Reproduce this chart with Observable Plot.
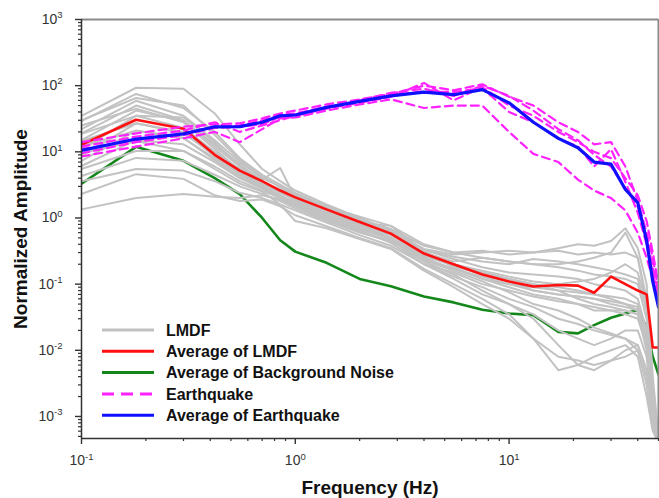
<!DOCTYPE html>
<html><head><meta charset="utf-8">
<script src="https://cdn.jsdelivr.net/npm/d3@7"></script>
<script src="https://cdn.jsdelivr.net/npm/@observablehq/plot@0.6"></script>
<style>
body{margin:0;background:#fff;}
#wrap{position:relative;width:659px;height:498px;font-family:"Liberation Sans",Arial,sans-serif;}
#wrap svg{display:block;}
#legend{position:absolute;left:0;top:0;pointer-events:none;}
</style></head><body><div id="wrap"></div>
<script>
// Frequency grid (Hz)
const freqs = [0.1, 0.18, 0.3, 0.42, 0.55, 0.7, 0.85, 1, 1.4, 2, 2.8, 4, 5.5, 7.5, 10, 13, 17, 21, 25, 30, 35, 40, 44, 47, 50];

// Individual LMDF spectra (gray)
const lmdfCurves = [
  [35, 93, 90, 38, 13, 5.5, 3.6, 2.6, 1.6, 1.0, 0.65, 0.33, 0.24, 0.18, 0.15, 0.14, 0.13, 0.12, 0.1, 0.09, 0.08, 0.06, 0.02, 0.002, 0.0004],
  [29, 75, 46, 20, 8, 4.5, 3.2, 2.4, 1.5, 0.95, 0.6, 0.3, 0.2, 0.15, 0.12, 0.1, 0.09, 0.08, 0.07, 0.06, 0.05, 0.04, 0.012, 0.001, 0.0004],
  [22, 59, 35, 15, 7, 4, 3, 2.3, 1.4, 0.9, 0.62, 0.34, 0.28, 0.3, 0.32, 0.3, 0.35, 0.4, 0.38, 0.45, 0.7, 0.35, 0.1, 0.004, 0.0005],
  [19, 50, 30, 12, 6, 3.8, 5.7, 2.0, 1.3, 0.8, 0.5, 0.25, 0.17, 0.12, 0.09, 0.07, 0.06, 0.05, 0.045, 0.04, 0.04, 0.035, 0.01, 0.001, 0.0004],
  [15, 42, 29, 13, 6.5, 3.5, 2.4, 1.9, 1.2, 0.76, 0.55, 0.3, 0.22, 0.25, 0.22, 0.2, 0.2, 0.22, 0.25, 0.3, 0.6, 0.25, 0.05, 0.002, 0.0004],
  [11, 35, 23, 10, 5.5, 3.3, 2.5, 1.8, 1.15, 0.75, 0.5, 0.22, 0.14, 0.08, 0.05, 0.035, 0.02, 0.015, 0.012, 0.015, 0.02, 0.02, 0.008, 0.001, 0.0004],
  [8.7, 27, 19, 9, 4.5, 3.0, 2.2, 1.7, 1.1, 0.7, 0.48, 0.2, 0.12, 0.07, 0.05, 0.03, 0.012, 0.006, 0.005, 0.007, 0.008, 0.01, 0.004, 0.0008, 0.0004],
  [7.3, 21, 16, 8, 4.6, 3.2, 2.6, 2.2, 1.5, 1.05, 0.76, 0.4, 0.3, 0.25, 0.22, 0.2, 0.18, 0.16, 0.14, 0.13, 0.12, 0.1, 0.03, 0.002, 0.0004],
  [6.1, 15, 13, 7, 4, 2.8, 2.0, 1.6, 1.0, 0.65, 0.42, 0.2, 0.15, 0.1, 0.08, 0.065, 0.055, 0.05, 0.04, 0.04, 0.035, 0.03, 0.012, 0.001, 0.0004],
  [5.5, 10.3, 10.3, 6, 3.6, 2.6, 2.0, 1.5, 0.95, 0.62, 0.45, 0.23, 0.16, 0.11, 0.075, 0.05, 0.04, 0.03, 0.022, 0.018, 0.015, 0.012, 0.005, 0.001, 0.0004],
  [4.3, 8.1, 7.3, 4.5, 3.0, 2.3, 1.8, 1.4, 0.9, 0.6, 0.44, 0.26, 0.2, 0.16, 0.13, 0.11, 0.1, 0.11, 0.12, 0.15, 0.2, 0.15, 0.05, 0.002, 0.0004],
  [3.6, 5.5, 5.2, 3.6, 2.4, 2.0, 1.6, 1.3, 0.85, 0.55, 0.38, 0.2, 0.13, 0.09, 0.06, 0.045, 0.03, 0.025, 0.02, 0.017, 0.015, 0.01, 0.003, 0.0007, 0.0004],
  [2.3, 4.6, 3.9, 2.2, 1.8, 1.9, 1.5, 1.1, 0.75, 0.5, 0.35, 0.17, 0.1, 0.06, 0.035, 0.015, 0.005, 0.006, 0.008, 0.01, 0.012, 0.008, 0.002, 0.0006, 0.0004],
  [1.35, 2.0, 2.3, 2.1, 2.0, 2.2, 1.9, 1.5, 1.0, 0.7, 0.5, 0.27, 0.19, 0.14, 0.11, 0.08, 0.07, 0.065, 0.06, 0.05, 0.045, 0.04, 0.015, 0.001, 0.0004],
  [18.7, 35, 33, 14, 6, 3.2, 2.4, 1.9, 1.3, 0.85, 0.76, 0.32, 0.18, 0.12, 0.1, 0.09, 0.08, 0.075, 0.07, 0.065, 0.06, 0.05, 0.02, 0.001, 0.0004],
  [14.6, 27, 20, 8.5, 4.8, 3.4, 2.7, 2.1, 1.4, 0.95, 0.68, 0.38, 0.3, 0.32, 0.28, 0.3, 0.32, 0.28, 0.3, 0.28, 0.3, 0.25, 0.06, 0.003, 0.0004],
  [12, 20.8, 16.3, 7.5, 4.2, 2.9, 2.1, 1.7, 1.2, 0.8, 0.55, 0.28, 0.2, 0.15, 0.12, 0.1, 0.08, 0.06, 0.05, 0.045, 0.04, 0.035, 0.012, 0.001, 0.0004],
  [25, 45, 28, 11, 5.2, 3.0, 2.2, 1.6, 1.05, 0.68, 0.48, 0.24, 0.17, 0.13, 0.1, 0.08, 0.07, 0.065, 0.06, 0.055, 0.05, 0.045, 0.015, 0.001, 0.0004],
  [9.5, 14.6, 10.3, 5.5, 3.3, 2.5, 1.6, 0.9, 0.7, 0.48, 0.34, 0.16, 0.09, 0.05, 0.03, 0.015, 0.008, 0.007, 0.006, 0.007, 0.01, 0.012, 0.005, 0.001, 0.0004],
  [30, 65, 50, 18, 7.5, 4.2, 2.9, 2.2, 1.45, 0.9, 0.62, 0.33, 0.26, 0.22, 0.2, 0.24, 0.22, 0.2, 0.18, 0.16, 0.14, 0.12, 0.04, 0.002, 0.0004]
];

// Averages
const avgLMDF  = [12.8, 30.5, 22.3, 9.0, 5.2, 3.6, 2.6, 2.05, 1.35, 0.87, 0.58, 0.29, 0.2, 0.14, 0.11, 0.092, 0.097, 0.095, 0.074, 0.13, 0.1, 0.08, 0.07, 0.011, 0.011];
const avgNoise = [3.3, 11.9, 7.3, 4.0, 2.3, 1.0, 0.46, 0.31, 0.21, 0.12, 0.093, 0.065, 0.053, 0.041, 0.036, 0.034, 0.019, 0.018, 0.024, 0.031, 0.036, 0.041, 0.022, 0.008, 0.0043];
const avgQuake = [10.5, 15.6, 18.7, 23.9, 24, 28, 35, 36, 47, 58, 70, 80, 73, 87, 55, 28, 16, 11.5, 7, 6.5, 2.7, 1.7, 0.45, 0.11, 0.045];

// Individual earthquake spectra (magenta dashed)
const quakeCurves = [
  [14, 19, 24, 26, 27, 32, 38, 42, 52, 62, 75, 100, 85, 105, 68, 50, 28, 20, 13, 14, 6, 1.8, 0.6, 0.25, 0.08],
  [8.5, 12, 16, 20, 14, 22, 32, 33, 42, 52, 62, 46, 50, 50, 20, 9.3, 7, 3.8, 2.6, 2, 1.3, 0.6, 0.25, 0.12, 0.06],
  [11, 15, 19, 24, 25, 30, 36, 38, 48, 58, 72, 82, 80, 92, 40, 28, 16, 12, 6, 11, 3.5, 1.2, 0.4, 0.15, 0.05],
  [9.5, 14, 18, 23, 24, 26, 34, 36, 46, 60, 78, 90, 70, 100, 70, 42, 22, 15, 9, 6, 2.8, 1.5, 0.5, 0.18, 0.07],
  [12, 17, 21, 28, 20, 25, 30, 35, 45, 55, 68, 110, 60, 95, 50, 35, 20, 14, 10, 8, 4, 2.2, 0.9, 0.3, 0.1]
];

const legendLabels = ["LMDF", "Average of LMDF", "Average of Background Noise", "Earthquake", "Average of Earthquake"];
const xMajor = [0.1, 1, 10];
const yMajor = [0.001, 0.01, 0.1, 1, 10, 100, 1000];

// ---- build tables ----
const toRows = (vals, id) => vals.map((v, i) => ({f: freqs[i], v, id}));
const grayRows = lmdfCurves.flatMap((c, k) => toRows(c, "g" + k));
const quakeRows = quakeCurves.flatMap((c, k) => toRows(c, "q" + k));
const redRows = toRows(avgLMDF, "red");
const greenRows = toRows(avgNoise, "green");
const blueRows = toRows(avgQuake, "blue");

const xDomain = [0.1, 50];
const yDomain = [Math.pow(10, -3.333), 1000];
const xMinor = [];
for (const d of [0.1, 1, 10]) for (let m = 2; m <= 9; m++) { const t = m * d; if (t <= xDomain[1]) xMinor.push(t); }
const yMinor = [];
for (const d of [0.0001, 0.001, 0.01, 0.1, 1, 10, 100]) for (let m = 2; m <= 9; m++) { const t = m * d; if (t >= yDomain[0] && t <= yDomain[1]) yMinor.push(t); }
const fmt = d => "10^" + Math.round(Math.log10(d));

const axisColor = "#333";
const svg = Plot.plot({
  width: 659, height: 498,
  marginLeft: 81, marginRight: 1, marginTop: 19, marginBottom: 60,
  style: {fontFamily: "'Liberation Sans', Arial, sans-serif", fontSize: "14px", background: "#fff", color: "#333"},
  x: {type: "log", domain: xDomain},
  y: {type: "log", domain: yDomain},
  marks: [
    Plot.line(greenRows, {x: "f", y: "v", stroke: "#14871a", strokeWidth: 2.6, clip: true}),
    Plot.line(grayRows, {x: "f", y: "v", z: "id", stroke: "#c2c2c2", strokeWidth: 2, clip: true}),
    Plot.line(redRows, {x: "f", y: "v", stroke: "#ff1010", strokeWidth: 2.6, clip: true}),
    Plot.line(quakeRows, {x: "f", y: "v", z: "id", stroke: "#ff22ff", strokeWidth: 2.2, strokeDasharray: "8,5", clip: true}),
    Plot.line(blueRows, {x: "f", y: "v", stroke: "#1010ff", strokeWidth: 3.2, clip: true}),
    // frame: top & right gray
    Plot.ruleY([yDomain[1]], {stroke: "#8a8a8a", strokeWidth: 2}),
    Plot.ruleX([xDomain[1]], {stroke: "#8a8a8a", strokeWidth: 2}),
    // axis lines
    Plot.ruleX([xDomain[0]], {stroke: axisColor, strokeWidth: 1.5}),
    Plot.ruleY([yDomain[0]], {stroke: axisColor, strokeWidth: 1.5}),
    Plot.axisX(xMinor, {tickSize: 3, tickFormat: null, text: null, label: null, stroke: axisColor, strokeWidth: 1.2}),
    Plot.axisY(yMinor, {tickSize: 3, tickFormat: null, text: null, label: null, stroke: axisColor, strokeWidth: 1.2}),
    Plot.axisX(xMajor, {tickSize: 6, tickPadding: 11, tickFormat: fmt, label: null, stroke: axisColor, strokeWidth: 1.4, fill: "#333", fontSize: 14}),
    Plot.axisY(yMajor, {tickSize: 6, tickPadding: 13, tickFormat: fmt, label: null, stroke: axisColor, strokeWidth: 1.4, fill: "#333", fontSize: 14}),
    Plot.text(["Frequency (Hz)"], {frameAnchor: "bottom", dy: 55, lineAnchor: "bottom", textAnchor: "middle", fontSize: 19, fontWeight: "bold", fill: "#111"}),
    Plot.text(["Normalized Amplitude"], {frameAnchor: "left", rotate: -90, dx: -55, lineAnchor: "bottom", textAnchor: "middle", fontSize: 19, fontWeight: "bold", fill: "#111"})
  ]
});

// superscript exponents in tick labels
d3.select(svg).selectAll("text").each(function () {
  const t = this.textContent;
  if (!/^10\^-?\d+$/.test(t)) return;
  const [b, e] = t.split("^");
  const s = d3.select(this);
  s.selectAll("*").remove();
  s.text(b);
  s.append("tspan").attr("font-size", "9.5px").attr("dy", "-0.6em").text(e);
});

const wrap = document.getElementById("wrap");
wrap.appendChild(svg);

// legend overlay
const legendStyles = [
  {stroke: "#c2c2c2", dash: null},
  {stroke: "#ff1010", dash: null},
  {stroke: "#14871a", dash: null},
  {stroke: "#ff22ff", dash: "12,7"},
  {stroke: "#1010ff", dash: null}
];
const lg = d3.select(wrap).append("svg").attr("id", "legend").attr("width", 659).attr("height", 498);
const row = lg.selectAll("g").data(legendLabels).join("g")
  .attr("transform", (d, i) => `translate(102,${330 + i * 21.3})`);
row.append("line").attr("x1", 0).attr("x2", 52).attr("y1", 0).attr("y2", 0)
  .attr("stroke", (d, i) => legendStyles[i].stroke).attr("stroke-width", 3)
  .attr("stroke-dasharray", (d, i) => legendStyles[i].dash);
row.append("text").attr("x", 64).attr("y", 0).attr("dy", "0.36em")
  .attr("font-family", "'Liberation Sans', Arial, sans-serif").attr("font-size", 16).attr("font-weight", "bold").attr("fill", "#111")
  .text(d => d);
</script></body></html>
